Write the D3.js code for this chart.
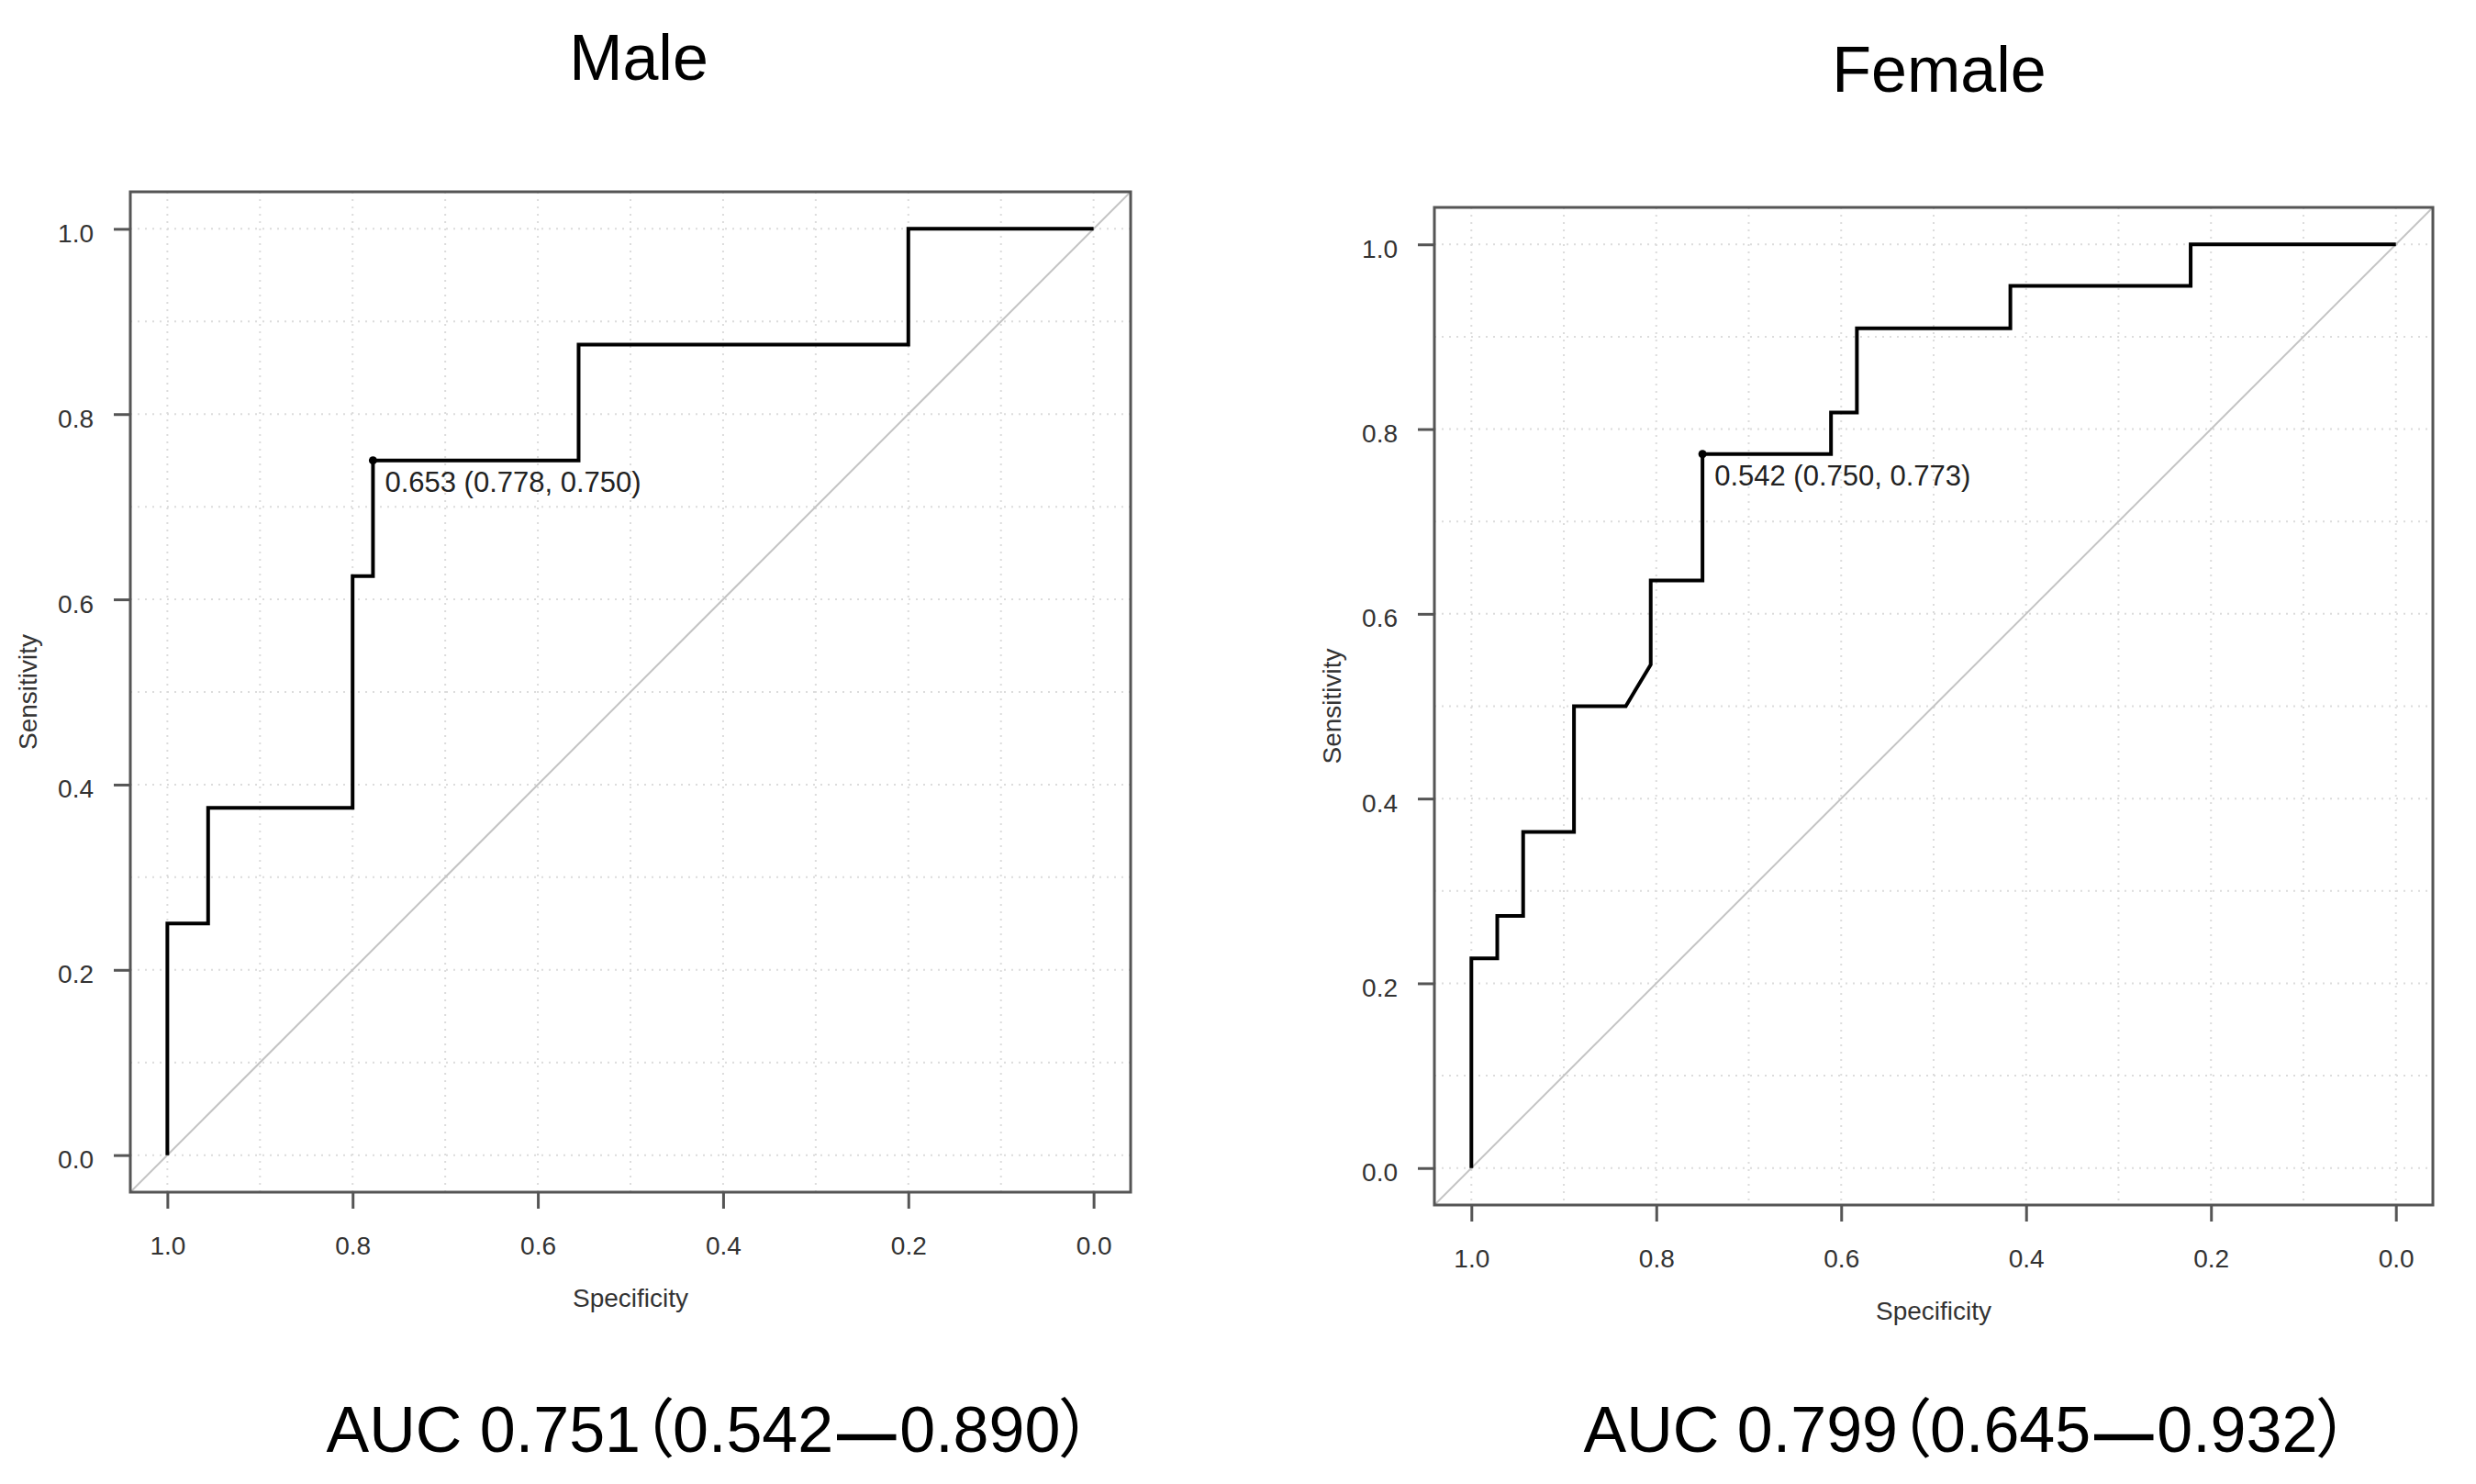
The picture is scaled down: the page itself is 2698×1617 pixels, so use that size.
<!DOCTYPE html>
<html>
<head>
<meta charset="utf-8">
<script src="https://cdn.jsdelivr.net/npm/d3@7"></script>
<style>
  html, body { margin: 0; padding: 0; background: #fff; }
  svg { display: block; }
  text { font-family: "Liberation Sans", Arial, "Noto Sans CJK SC", sans-serif; }
  .auc { font-feature-settings: "palt" 1; }
</style>
</head>
<body>
<svg id="chart" width="2698" height="1617"></svg>
<script>
// ---------------- data ----------------
const panelTitles = ["Male", "Female"];
const aucLabels = ["AUC 0.751（0.542—0.890）", "AUC 0.799（0.645—0.932）"];

const maleSpecificity = [1, 1, 0.956, 0.956, 0.8, 0.8, 0.778, 0.778, 0.556, 0.556, 0.2, 0.2, 0];
const maleSensitivity = [0, 0.25, 0.25, 0.375, 0.375, 0.625, 0.625, 0.75, 0.75, 0.875, 0.875, 1, 1];

const femaleSpecificity = [1, 1, 0.972, 0.972, 0.944, 0.944, 0.889, 0.889, 0.833, 0.806, 0.806, 0.75, 0.75, 0.611, 0.611, 0.583, 0.583, 0.417, 0.417, 0.222, 0.222, 0];
const femaleSensitivity = [0, 0.227, 0.227, 0.273, 0.273, 0.364, 0.364, 0.5, 0.5, 0.545, 0.636, 0.636, 0.773, 0.773, 0.818, 0.818, 0.909, 0.909, 0.955, 0.955, 1, 1];

const bestThreshold = [0.653, 0.542];
const bestSpecificity = [0.778, 0.750];
const bestSensitivity = [0.750, 0.773];

const tickValues = [0, 0.2, 0.4, 0.6, 0.8, 1.0];
const gridValues = [0, 0.1, 0.2, 0.3, 0.4, 0.5, 0.6, 0.7, 0.8, 0.9, 1.0];
const xAxisTitle = "Specificity";
const yAxisTitle = "Sensitivity";

// ---------------- layout ----------------
const panels = [
  { left: 142, right: 1232, top: 209, bottom: 1299, titleX: 696, titleY: 87, aucX: 773, aucY: 1582,
    spec: maleSpecificity, sens: maleSensitivity },
  { left: 1563, right: 2651, top: 226, bottom: 1313, titleX: 2113, titleY: 100, aucX: 2143, aucY: 1582,
    spec: femaleSpecificity, sens: femaleSensitivity }
];

const svg = d3.select("#chart");
const fmt = d3.format(".1f");
const fmt3 = d3.format(".3f");

panels.forEach((p, i) => {
  const x = d3.scaleLinear().domain([1.04, -0.04]).range([p.left, p.right]);
  const y = d3.scaleLinear().domain([-0.04, 1.04]).range([p.bottom, p.top]);
  const g = svg.append("g");

  // grid
  g.append("g").selectAll("line.v").data(gridValues).join("line")
    .attr("x1", d => x(d)).attr("x2", d => x(d))
    .attr("y1", p.top).attr("y2", p.bottom)
    .attr("stroke", "#dcdcdc").attr("stroke-width", 2).attr("stroke-dasharray", "2,6");
  g.append("g").selectAll("line.h").data(gridValues).join("line")
    .attr("y1", d => y(d)).attr("y2", d => y(d))
    .attr("x1", p.left).attr("x2", p.right)
    .attr("stroke", "#dcdcdc").attr("stroke-width", 2).attr("stroke-dasharray", "2,6");

  // diagonal reference
  g.append("line")
    .attr("x1", x(1.04)).attr("y1", y(-0.04))
    .attr("x2", x(-0.04)).attr("y2", y(1.04))
    .attr("stroke", "#c4c4c4").attr("stroke-width", 2);

  // ROC curve
  const pts = p.spec.map((s, k) => [s, p.sens[k]]);
  g.append("path")
    .attr("d", d3.line().x(d => x(d[0])).y(d => y(d[1]))(pts))
    .attr("fill", "none").attr("stroke", "#000").attr("stroke-width", 4)
    .attr("stroke-linejoin", "miter");

  // best threshold
  g.append("circle")
    .attr("cx", x(bestSpecificity[i])).attr("cy", y(bestSensitivity[i]))
    .attr("r", 4.5).attr("fill", "#000");
  g.append("text")
    .attr("x", x(bestSpecificity[i]) + 13).attr("y", y(bestSensitivity[i]) + 23)
    .attr("dy", "0.36em")
    .attr("font-size", 31).attr("fill", "#222")
    .text(`${fmt3(bestThreshold[i])} (${fmt3(bestSpecificity[i])}, ${fmt3(bestSensitivity[i])})`);

  // frame
  g.append("rect")
    .attr("x", p.left).attr("y", p.top)
    .attr("width", p.right - p.left).attr("height", p.bottom - p.top)
    .attr("fill", "none").attr("stroke", "#555").attr("stroke-width", 3);

  // axes
  const xAxis = g.append("g").attr("transform", `translate(0,${p.bottom})`)
    .call(d3.axisBottom(x).tickValues(tickValues).tickFormat(fmt).tickSize(18).tickPadding(30));
  const yAxis = g.append("g").attr("transform", `translate(${p.left},0)`)
    .call(d3.axisLeft(y).tickValues(tickValues).tickFormat(fmt).tickSize(18).tickPadding(22));
  [xAxis, yAxis].forEach(a => {
    a.select(".domain").remove();
    a.selectAll(".tick line").attr("stroke", "#555").attr("stroke-width", 3);
    a.selectAll(".tick text").attr("font-size", 28).attr("fill", "#333")
      .attr("font-family", "Liberation Sans, Arial, sans-serif");
  });
  yAxis.selectAll(".tick text").attr("dy", "0.5em");

  // axis titles
  g.append("text")
    .attr("x", (p.left + p.right) / 2).attr("y", p.bottom + 125)
    .attr("text-anchor", "middle").attr("font-size", 28).attr("fill", "#333")
    .text(xAxisTitle);
  g.append("text")
    .attr("transform", `translate(${p.left - 102},${(p.top + p.bottom) / 2}) rotate(-90)`)
    .attr("text-anchor", "middle").attr("font-size", 28).attr("fill", "#333")
    .text(yAxisTitle);

  // title
  g.append("text")
    .attr("x", p.titleX).attr("y", p.titleY)
    .attr("text-anchor", "middle").attr("font-size", 70).attr("fill", "#000")
    .text(panelTitles[i]);

  // AUC label: proportional CJK punctuation, heavier dash
  const parts = aucLabels[i].split("—");
  const auc = g.append("text").attr("class", "auc")
    .attr("x", p.aucX).attr("y", p.aucY)
    .attr("text-anchor", "middle").attr("font-size", 70).attr("fill", "#000");
  auc.append("tspan").text(parts[0]);
  auc.append("tspan").attr("dx", 5).attr("font-size", 62)
    .attr("stroke", "#000").attr("stroke-width", 2.5).text("—");
  auc.append("tspan").attr("dx", 5).text(parts[1]);
});
</script>
</body>
</html>
